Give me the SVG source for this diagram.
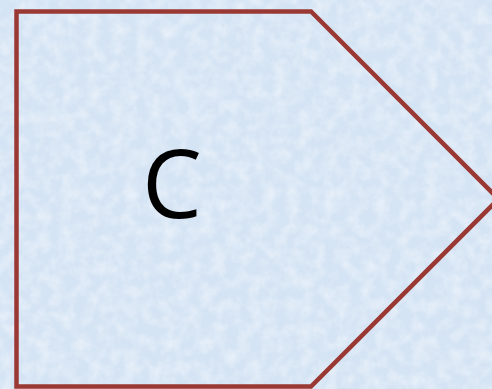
<svg xmlns="http://www.w3.org/2000/svg" width="492" height="389" viewBox="0 0 492 389">
  <defs>
    <filter id="tex" x="0" y="0" width="100%" height="100%">
      <feTurbulence type="fractalNoise" baseFrequency="0.08" numOctaves="3" seed="4" result="n"/>
      <feColorMatrix in="n" type="matrix" values="0 0 0 0 0.89  0 0 0 0 0.93  0 0 0 0 0.98  0 0 0 1.2 -0.45"/>
    </filter>
    <style>
      .shape { fill: none; stroke: #9A3833; stroke-width: 4.5; stroke-linejoin: miter; }
      .label { font-family: "Open Sans", "Liberation Sans", sans-serif; font-size: 95px; fill: #000000; }
    </style>
  </defs>
  <rect x="0" y="0" width="492" height="389" fill="#D5E4F4"/>
  <rect x="0" y="0" width="492" height="389" filter="url(#tex)"/>
  <g id="node-c">
    <polygon class="shape" points="16.5,11.5 311,11.5 498.5,199 311,386.5 16.5,386.5"/>
    <text class="label" x="172" y="218" text-anchor="middle">C</text>
  </g>
  <g id="connectors"/>
</svg>
